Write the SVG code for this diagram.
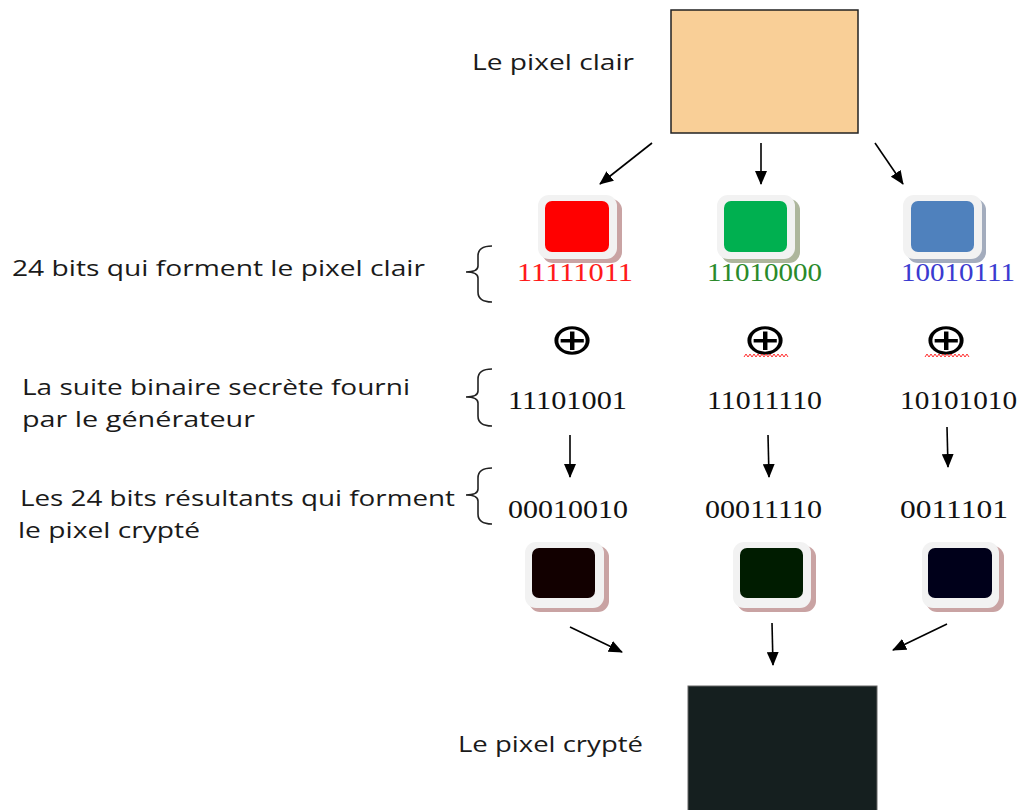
<svg xmlns="http://www.w3.org/2000/svg" width="1033" height="810" viewBox="0 0 1033 810">
<defs>
<marker id="ah" markerWidth="14" markerHeight="12" refX="13" refY="6" orient="auto" markerUnits="userSpaceOnUse" viewBox="0 0 14 12">
<path d="M0,0 L14,6 L0,12 z" fill="#000"/>
</marker>
<style>
.lbl{font-family:"Open Sans","Noto Sans",sans-serif;font-size:21px;fill:#1a1a1a}
.bin{font-family:"Liberation Serif",serif;font-size:25px;fill:#111}
.xor{font-family:"DejaVu Sans",sans-serif;font-size:43px;fill:#000}
.frame{fill:#f2f2f2}
.brace{fill:none;stroke:#222;stroke-width:1.6}
.conn line{stroke:#000;stroke-width:1.6;marker-end:url(#ah)}
.sq{fill:none;stroke:#ff3030;stroke-width:1}
</style>
</defs>
<rect width="1033" height="810" fill="#fff"/>

<g id="pixel-clair">
<rect x="671" y="10" width="187" height="123" fill="#f9cf97" stroke="#222" stroke-width="1.5"/>
<text class="lbl" x="472" y="70" textLength="162" lengthAdjust="spacingAndGlyphs">Le pixel clair</text>
</g>

<g id="tile-red">
<rect x="542" y="199" width="80" height="64" rx="11" fill="#c9a3a3"/>
<rect x="538" y="195" width="79" height="64" rx="11" class="frame"/>
<rect x="545" y="201" width="64" height="51" rx="7" fill="#ff0000"/>
<text class="bin" x="517" y="281" textLength="116" lengthAdjust="spacingAndGlyphs" style="fill:#ff1a1a">11111011</text>
</g>
<g id="tile-green">
<rect x="721" y="199" width="79" height="64" rx="11" fill="#adb69c"/>
<rect x="717" y="195" width="78" height="64" rx="11" class="frame"/>
<rect x="724" y="201" width="63" height="51" rx="7" fill="#00b050"/>
<text class="bin" x="707" y="281" textLength="115" lengthAdjust="spacingAndGlyphs" style="fill:#2a8a2a">11010000</text>
</g>
<g id="tile-blue">
<rect x="907" y="199" width="79" height="64" rx="11" fill="#a3acbd"/>
<rect x="903" y="195" width="79" height="64" rx="11" class="frame"/>
<rect x="911" y="201" width="63" height="51" rx="7" fill="#4f81bd"/>
<text class="bin" x="901" y="281" textLength="114" lengthAdjust="spacingAndGlyphs" style="fill:#3a3ad0">10010111</text>
</g>

<g id="xor-ops">
<text class="xor" transform="translate(572,354) scale(1.25,1)" text-anchor="middle">⊕</text>
<text class="xor" transform="translate(765,354) scale(1.25,1)" text-anchor="middle">⊕</text>
<text class="xor" transform="translate(946,354) scale(1.25,1)" text-anchor="middle">⊕</text>
<path class="sq" d="M744,357 l2,-3 l2,3 l2,-3 l2,3 l2,-3 l2,3 l2,-3 l2,3 l2,-3 l2,3 l2,-3 l2,3 l2,-3 l2,3 l2,-3 l2,3 l2,-3 l2,3 l2,-3 l2,3 l2,-3 l2,3"/>
<path class="sq" d="M925,357 l2,-3 l2,3 l2,-3 l2,3 l2,-3 l2,3 l2,-3 l2,3 l2,-3 l2,3 l2,-3 l2,3 l2,-3 l2,3 l2,-3 l2,3 l2,-3 l2,3 l2,-3 l2,3 l2,-3 l2,3"/>
</g>

<g id="secret-bits">
<text class="bin" x="508" y="409" textLength="119" lengthAdjust="spacingAndGlyphs">11101001</text>
<text class="bin" x="707" y="409" textLength="115" lengthAdjust="spacingAndGlyphs">11011110</text>
<text class="bin" x="900" y="409" textLength="117" lengthAdjust="spacingAndGlyphs">10101010</text>
</g>

<g id="result-bits">
<text class="bin" x="508" y="518" textLength="120" lengthAdjust="spacingAndGlyphs">00010010</text>
<text class="bin" x="705" y="518" textLength="117" lengthAdjust="spacingAndGlyphs">00011110</text>
<text class="bin" x="900" y="518" textLength="108" lengthAdjust="spacingAndGlyphs">0011101</text>
</g>

<g id="tile-dark-red">
<rect x="529" y="546" width="80" height="66" rx="11" fill="#c9a3a3"/>
<rect x="525" y="542" width="79" height="66" rx="11" class="frame"/>
<rect x="532" y="548" width="63" height="50" rx="7" fill="#120000"/>
</g>
<g id="tile-dark-green">
<rect x="737" y="546" width="79" height="66" rx="11" fill="#c9a3a3"/>
<rect x="733" y="542" width="78" height="66" rx="11" class="frame"/>
<rect x="740" y="548" width="63" height="50" rx="7" fill="#001c00"/>
</g>
<g id="tile-dark-blue">
<rect x="926" y="546" width="78" height="66" rx="11" fill="#c9a3a3"/>
<rect x="922" y="542" width="77" height="66" rx="11" class="frame"/>
<rect x="928" y="548" width="64" height="50" rx="7" fill="#00001a"/>
</g>

<g id="pixel-crypte">
<rect x="688" y="686" width="189" height="130" fill="#151f1f" stroke="#666" stroke-width="1"/>
<text class="lbl" x="458" y="752" textLength="185" lengthAdjust="spacingAndGlyphs">Le pixel crypté</text>
</g>

<g id="labels">
<text class="lbl" x="12" y="276" textLength="413" lengthAdjust="spacingAndGlyphs">24 bits qui forment le pixel clair</text>
<path class="brace" d="M492,246 Q478,246 478,256 L478,266 Q478,272 466,272 Q478,272 478,278 L478,292 Q478,302 492,302"/>
<text class="lbl" x="22" y="395" textLength="388" lengthAdjust="spacingAndGlyphs">La suite binaire secrète fourni</text>
<text class="lbl" x="22" y="427" textLength="233" lengthAdjust="spacingAndGlyphs">par  le générateur</text>
<path class="brace" d="M492,369 Q478,369 478,379 L478,391 Q478,397 466,397 Q478,397 478,403 L478,416 Q478,426 492,426"/>
<text class="lbl" x="20" y="506" textLength="435" lengthAdjust="spacingAndGlyphs">Les 24 bits résultants qui forment</text>
<text class="lbl" x="18" y="538" textLength="182" lengthAdjust="spacingAndGlyphs">le pixel crypté</text>
<path class="brace" d="M492,468 Q478,468 478,478 L478,489 Q478,495 466,495 Q478,495 478,501 L478,514 Q478,524 492,524"/>
</g>

<g id="connectors" class="conn">
<line x1="652" y1="143" x2="600" y2="184"/>
<line x1="761" y1="143" x2="761" y2="184"/>
<line x1="875" y1="143" x2="903" y2="184"/>
<line x1="570" y1="435" x2="570" y2="477"/>
<line x1="768" y1="435" x2="769" y2="477"/>
<line x1="947" y1="427" x2="948" y2="467"/>
<line x1="570" y1="627" x2="622" y2="652"/>
<line x1="772" y1="623" x2="773" y2="665"/>
<line x1="947" y1="624" x2="893" y2="650"/>
</g>
</svg>
